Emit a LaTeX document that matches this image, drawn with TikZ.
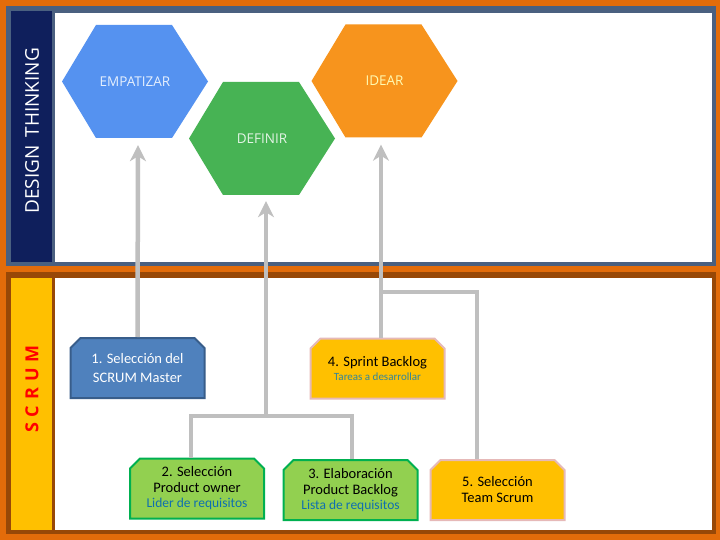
\documentclass[tikz,border=0pt]{standalone}
\usepackage{fontspec}
\setmainfont{Carlito}
\newfontfamily\hexfont{Open Sans}
\usetikzlibrary{shapes.misc,arrows.meta,calc}
\definecolor{orgbg}{HTML}{E36C0A}
\definecolor{topbd}{HTML}{4A6080}
\definecolor{navy}{HTML}{0F1F5C}
\definecolor{botbd}{HTML}{984807}
\definecolor{ylw}{HTML}{FFC000}
\definecolor{hblue}{HTML}{5592F0}
\definecolor{hgreen}{HTML}{47B354}
\definecolor{horange}{HTML}{F7941D}
\definecolor{bblue}{HTML}{4F81BD}
\definecolor{bbluebd}{HTML}{385D8A}
\definecolor{bgreen}{HTML}{92D050}
\definecolor{bgreenbd}{HTML}{00B050}
\definecolor{pinkbd}{HTML}{E6B9B8}
\definecolor{subblue}{HTML}{0F6FB0}
\definecolor{subteal}{HTML}{31859C}
\definecolor{arrgray}{HTML}{BFBFBF}
\tikzset{
 hexlabel/.style={minimum width=146pt,minimum height=113pt,font=\hexfont\fontsize{13.5}{15}\selectfont},
 snip/.style={chamfered rectangle,chamfered rectangle corners={north east,north west},chamfered rectangle xsep=5pt,chamfered rectangle ysep=5pt,
   minimum width=134pt,minimum height=60pt,inner sep=0pt,line width=2pt,align=center,font=\fontsize{14.5}{19}\selectfont},
 bluebox/.style={snip,fill=bblue,draw=bbluebd,text=white},
 greenbox/.style={snip,fill=bgreen,draw=bgreenbd},
 ylwbox/.style={snip,fill=ylw,draw=pinkbd},
 conn/.style={draw=arrgray,line width=4.5pt},
 arr/.style={conn,-{Stealth[length=16pt,width=16pt,inset=5pt]}},
}
\newcommand{\hexpath}[3]{\fill[#3] (#1-73,#2) -- (#1-39,#2-56.5) -- (#1+37,#2-56.5) -- (#1+73,#2) -- (#1+37,#2+56.5) -- (#1-39,#2+56.5) -- cycle;}
\begin{document}
\begin{tikzpicture}[x=1pt,y=-1pt]
\useasboundingbox (0,0) rectangle (720,540);
\fill[orgbg] (0,0) rectangle (720,540);
% top panel
\fill[topbd] (6,6) rectangle (716,266);
\fill[navy] (11,11) rectangle (52,262);
\fill[white] (55,13) rectangle (712,262);
% bottom panel
\fill[botbd] (6,272) rectangle (716,534);
\fill[ylw] (11,278) rectangle (52,530);
\fill[white] (55,278) rectangle (712,530);
\node[rotate=90,text=white,font=\hexfont\fontsize{19}{22}\selectfont] (dt) at (32,131) {DESIGN\, THINKING};
\node[rotate=90,text=red,font=\hexfont\bfseries\fontsize{18}{20}\selectfont] (sc) at (32,389) {S\,\,C\,\,R\,\,U\,\,M};
% hexagons
\hexpath{135}{81.5}{hblue}
\hexpath{262}{138.5}{hgreen}
\hexpath{384.5}{81}{horange}
\node[hexlabel,text=white!85!hblue] (hexE) at (135,81.5) {EMPATIZAR};
\node[hexlabel,text=white!85!hgreen] (hexD) at (262,138.5) {DEFINIR};
\node[hexlabel,text=yellow!30!white] (hexI) at (384.5,81) {IDEAR};
% boxes
\node[bluebox] (b1) at (137.5,368) {1. Selección del\\SCRUM Master};
\node[ylwbox] (b4) at (377.5,368.5) {4. Sprint Backlog\\[-5pt]{\color{subteal}\fontsize{11}{12}\selectfont Tareas a desarrollar}};
\node[greenbox] (b2) at (197,488.5) {2. Selección\\[-3pt]Product owner\\[-4pt]{\color{subblue}\fontsize{13.5}{14}\selectfont Lider de requisitos}};
\node[greenbox] (b3) at (350.5,490) {3. Elaboración\\[-3pt]Product Backlog\\[-4pt]{\color{subblue}\fontsize{13.5}{14}\selectfont Lista de requisitos}};
\node[ylwbox] (b5) at (497.5,490) {5. Selección\\[-3pt]Team Scrum};
% connectors
\coordinate (j1) at (266,416);
\coordinate (j2) at (381,292);
\draw[arr] (b1.north) -- ($(hexE.south)+(3,7)$);
\draw[arr] (j1) -- ($(hexD.south)+(4,6)$);
\draw[conn] (b2.north -| 191,0) |- (j1) -| (b3.north -| 352,0);
\draw[arr] (b4.north -| j2) -- ($(hexI.south)+(-3.5,7)$);
\draw[conn] (j2) -| (b5.north -| 477,0);
\end{tikzpicture}
\end{document}
